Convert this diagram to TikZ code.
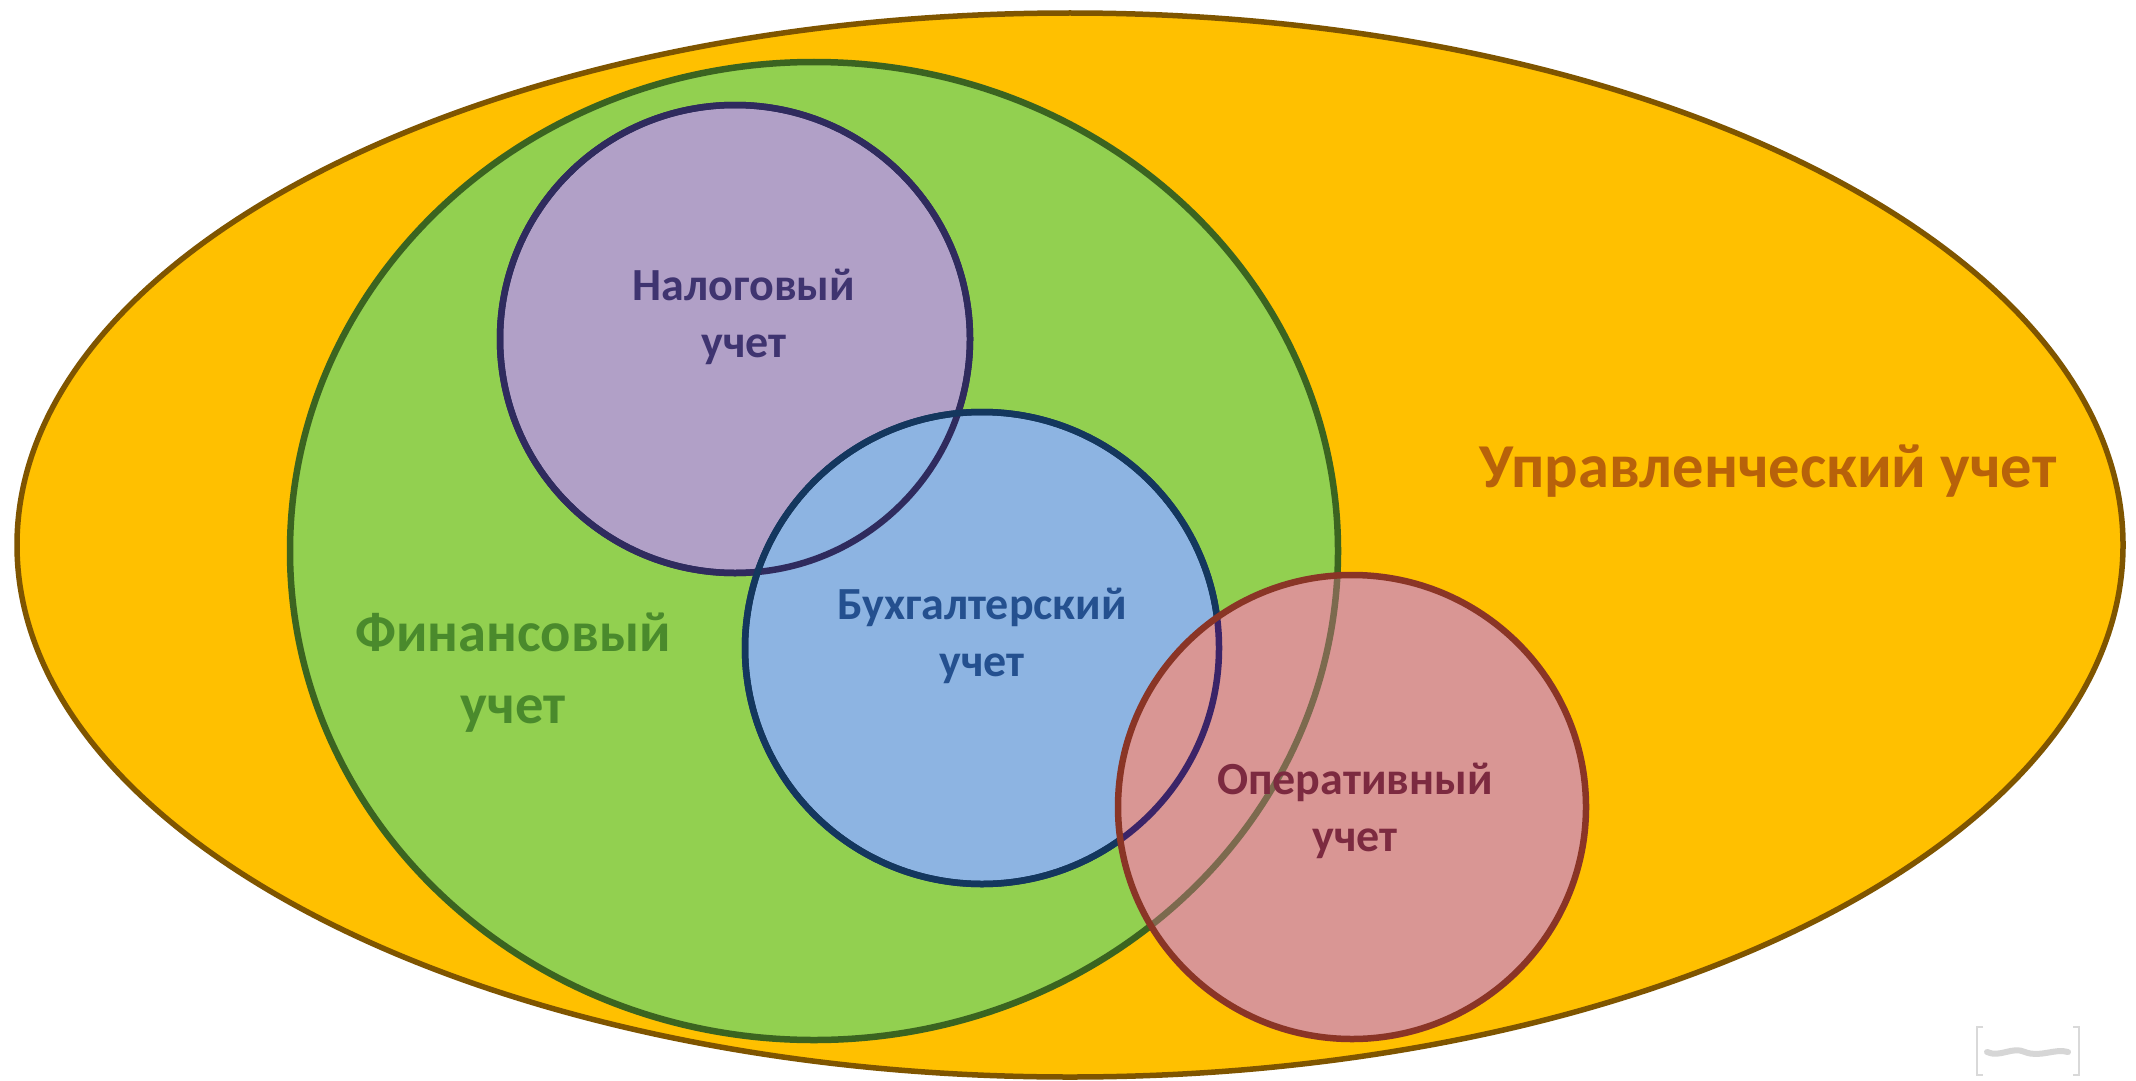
\documentclass[tikz,border=0pt]{standalone}
\usepackage{fontspec}
\setmainfont{Carlito}
\usetikzlibrary{shapes.geometric}
\definecolor{oFill}{HTML}{FFC000}
\definecolor{oLine}{HTML}{7F5500}
\definecolor{gFill}{HTML}{92D050}
\definecolor{gLine}{HTML}{3B6420}
\definecolor{pFill}{HTML}{B1A0C7}
\definecolor{pLine}{HTML}{2F2B5E}
\definecolor{bFill}{HTML}{8DB4E2}
\definecolor{bLine}{HTML}{14375E}
\definecolor{rFill}{HTML}{D99694}
\definecolor{rLine}{HTML}{8A3526}
\definecolor{gOverR}{HTML}{7C6A4E}
\definecolor{bOverR}{HTML}{3B2468}
\definecolor{tNal}{HTML}{3F3470}
\definecolor{tBux}{HTML}{24508F}
\definecolor{tFin}{HTML}{4A8A2C}
\definecolor{tOpr}{HTML}{7C2A40}
\definecolor{tUpr}{HTML}{B8620A}
\tikzset{
  blob/.style={ellipse,inner sep=0pt,outer sep=0pt,line width=6.5pt},
  lab/.style={font=\fontsize{46}{57}\selectfont\bfseries,align=center,inner sep=0pt},
  biglab/.style={font=\fontsize{56.5}{72}\selectfont\bfseries,align=center,inner sep=0pt}
}
\begin{document}
\begin{tikzpicture}[x=1pt,y=-1pt]
\useasboundingbox[fill=white] (0,0) rectangle (2136,1081);
\node[blob,draw=oLine,line width=5.5pt,fill=oFill,minimum width=2106pt,minimum height=1064pt] (upr) at (1070,545) {};
\node[blob,draw=gLine,fill=gFill,minimum width=1048pt,minimum height=978pt] (fin) at (814,551) {};
\node[blob,draw=pLine,fill=pFill,minimum width=470pt,minimum height=468pt] (nal) at (735,339) {};
\node[blob,draw=bLine,fill=bFill,minimum width=474pt,minimum height=472pt] (bux) at (982,648) {};
\node[blob,draw=pLine,minimum width=470pt,minimum height=468pt] (nalline) at (735,339) {};
\node[blob,draw=bLine,minimum width=474pt,minimum height=472pt] (buxline) at (982,648) {};
\node[blob,fill=rFill,minimum width=468pt,minimum height=464pt] (opr) at (1352,807) {};
\begin{scope}
\clip (1352,807) ellipse [x radius=234pt,y radius=232pt];
\node[blob,draw=gOverR,minimum width=1048pt,minimum height=978pt] (finover) at (814,551) {};
\node[blob,draw=bOverR,minimum width=474pt,minimum height=472pt] (buxover) at (982,648) {};
\end{scope}
\node[blob,draw=rLine,minimum width=468pt,minimum height=464pt] (oprline) at (1352,807) {};
\node[lab,text=tNal] (tnal) at (744,317) {Налоговый\\учет};
\node[lab,text=tBux] (tbux) at (982,636) {Бухгалтерский\\учет};
\node[biglab,text=tFin] (tfin) at (513,673) {Финансовый\\учет};
\node[lab,text=tOpr] (topr) at (1355,811) {Оперативный\\учет};
\node[font=\fontsize{62.5}{64}\selectfont\bfseries,text=tUpr,inner sep=0pt] (tupr) at (1768,471) {Управленческий учет};
\coordinate (markTL) at (1983,1027);
\coordinate (markBL) at (1977,1027);
\coordinate (markCL) at (1977,1075);
\coordinate (markDL) at (1983,1075);
\coordinate (markTR) at (2073,1027);
\coordinate (markBR) at (2079,1027);
\coordinate (markCR) at (2079,1075);
\coordinate (markDR) at (2073,1075);
\draw[black!15,line width=2.5pt] (markTL) -- (markBL) -- (markCL) -- (markDL);
\draw[black!15,line width=2.5pt] (markTR) -- (markBR) -- (markCR) -- (markDR);
\draw[black!16,line width=6pt,line cap=round] (1987,1052) .. controls (2000,1058) and (2012,1046) .. (2025,1052) .. controls (2040,1058) and (2055,1048) .. (2068,1052);
\end{tikzpicture}
\end{document}
